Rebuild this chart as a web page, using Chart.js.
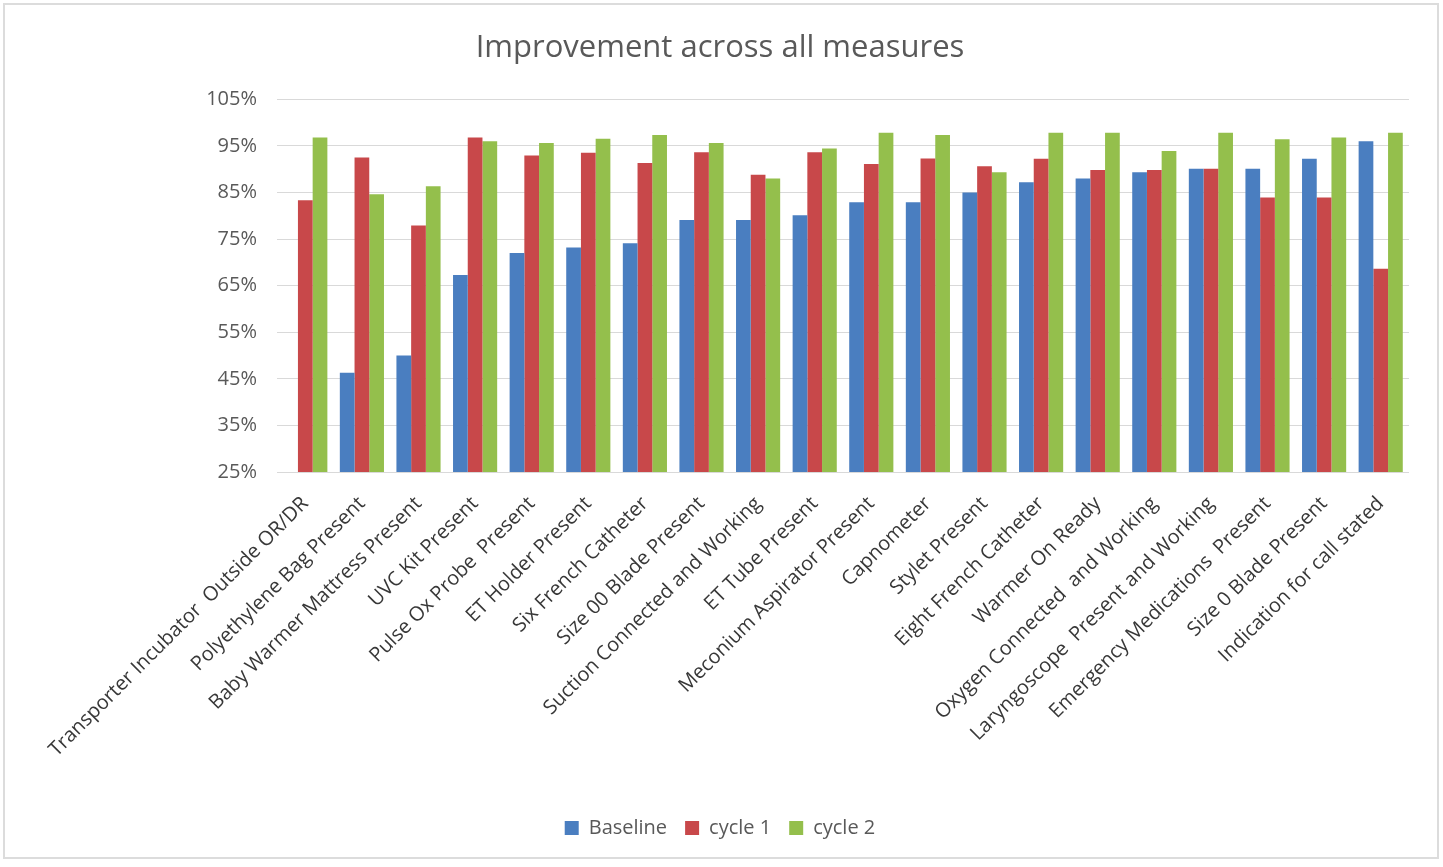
<!DOCTYPE html>
<html>
<head>
<meta charset="utf-8">
<script src="https://cdn.jsdelivr.net/npm/chart.js@4/dist/chart.umd.min.js"></script>
<style>
    html, body { margin: 0; padding: 0; background: #fff; }
    #frame { position: absolute; left: 3px; top: 3px; width: 1432px; height: 852px; border: 2px solid #dcdcdc; }
    #wrap { position: absolute; left: 0; top: 0; width: 1443px; height: 867px; }
</style>
</head>
<body>
<div id="frame"></div>
<div id="wrap"><canvas id="chart" width="1443" height="867"></canvas></div>
<script>
// ===== Data =====
const measures = [
    'Transporter Incubator  Outside OR/DR',
    'Polyethylene Bag Present',
    'Baby Warmer Mattress Present',
    'UVC Kit Present',
    'Pulse Ox Probe  Present',
    'ET Holder Present',
    'Six French Catheter',
    'Size 00 Blade Present',
    'Suction Connected and Working',
    'ET Tube Present',
    'Meconium Aspirator Present',
    'Capnometer',
    'Stylet Present',
    'Eight French Catheter',
    'Warmer On Ready',
    'Oxygen Connected  and Working',
    'Laryngoscope  Present and Working',
    'Emergency Medications  Present',
    'Size 0 Blade Present',
    'Indication for call stated'
];

const baseline = [25, 46.3, 50, 67.3, 72, 73.2, 74.1, 79.1, 79.1, 80.1, 82.9, 82.9, 85, 87.2, 88, 89.3, 90.1, 90.1, 92.2, 96];
const cycle1   = [83.3, 92.5, 77.9, 96.8, 92.9, 93.5, 91.3, 93.6, 88.8, 93.6, 91.1, 92.3, 90.6, 92.2, 89.8, 89.8, 90.1, 83.9, 83.9, 68.6];
const cycle2   = [96.8, 84.6, 86.3, 96, 95.6, 96.5, 97.3, 95.6, 88, 94.4, 97.8, 97.3, 89.3, 97.8, 97.8, 93.9, 97.8, 96.4, 96.8, 97.8];

const yTicks = [25, 35, 45, 55, 65, 75, 85, 95, 105];

const FONT = "'Open Sans', 'Noto Sans', sans-serif";
const GRAY = '#595959';

new Chart(document.getElementById('chart'), {
    type: 'bar',
    data: {
        labels: measures,
        datasets: [
            { label: 'Baseline', data: baseline, backgroundColor: '#4a7ec0' },
            { label: 'cycle 1', data: cycle1, backgroundColor: '#c8484a' },
            { label: 'cycle 2', data: cycle2, backgroundColor: '#94bf4c' }
        ]
    },
    options: {
        responsive: false,
        animation: false,
        layout: { padding: { top: 30, left: 31, right: 34, bottom: 19 } },
        datasets: { bar: { categoryPercentage: 0.78, barPercentage: 1.0, borderWidth: 0 } },
        plugins: {
            title: {
                display: true,
                text: 'Improvement across all measures',
                color: GRAY,
                font: { family: FONT, size: 31, weight: 'normal' },
                padding: { top: 0, bottom: 32 }
            },
            legend: {
                position: 'bottom',
                labels: {
                    color: GRAY,
                    font: { family: FONT, size: 20 },
                    boxWidth: 14,
                    boxHeight: 14,
                    padding: 18
                }
            },
            tooltip: { enabled: false }
        },
        scales: {
            x: {
                grid: { display: false },
                border: { display: false },
                ticks: {
                    color: '#383838',
                    font: { family: FONT, size: 20 },
                    minRotation: 45,
                    maxRotation: 45,
                    autoSkip: false,
                    padding: 12
                },
                afterFit: scale => { scale.height = 328; }
            },
            y: {
                min: 25,
                max: 105,
                afterBuildTicks: scale => { scale.ticks = yTicks.map(v => ({ value: v })); },
                grid: { color: '#d9d9d9', drawTicks: false },
                border: { display: false },
                ticks: {
                    color: GRAY,
                    font: { family: FONT, size: 20 },
                    padding: 20,
                    callback: v => v + '%'
                },
                afterFit: scale => { scale.width = 246; }
            }
        }
    }
});
</script>
</body>
</html>
